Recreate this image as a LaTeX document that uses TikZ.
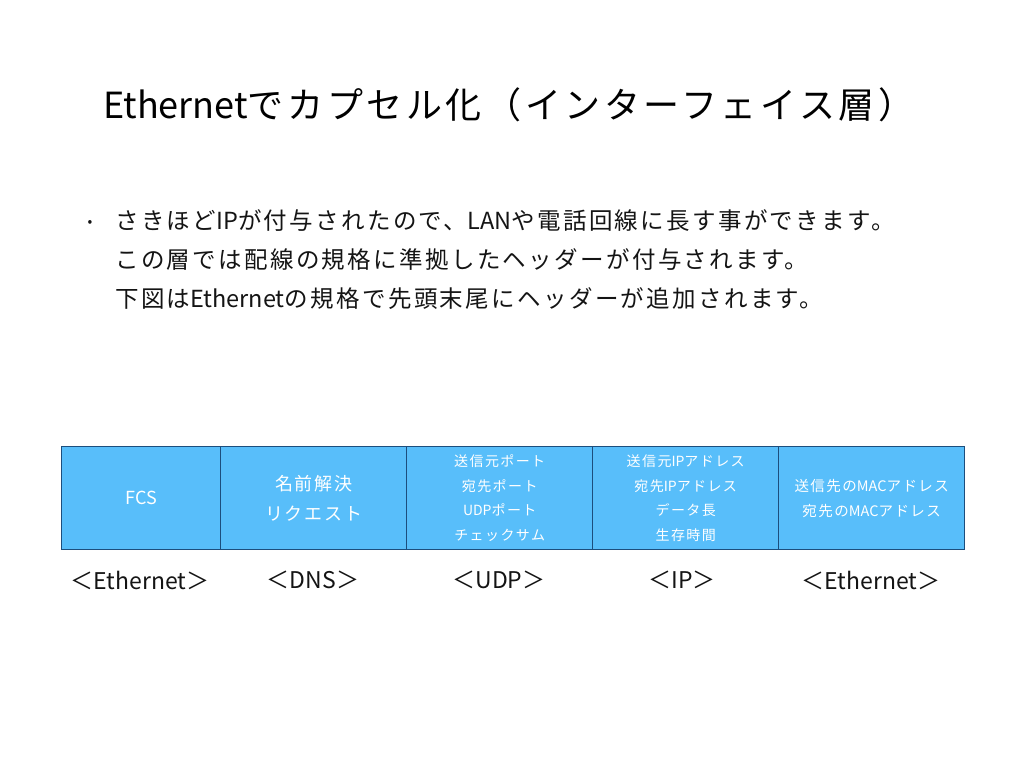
\documentclass[tikz,border=0pt]{standalone}
\usepackage{fontspec}
\setmainfont[LetterSpace=10]{Noto Sans CJK JP}
\newfontfamily\latf{Noto Sans CJK JP}
\newcommand\lat[1]{{\latf #1}}
\definecolor{boxfill}{RGB}{88,190,250}
\definecolor{boxline}{RGB}{28,78,125}
\definecolor{txt}{RGB}{20,20,20}
\tikzset{
  pkt/.style={draw=boxline, line width=1.4pt, fill=boxfill, anchor=north west, minimum height=103pt, inner sep=0pt, text=white, align=center},
  lbl/.style={text=txt, font=\fontsize{23}{26}\selectfont, anchor=center},
  bul/.style={text=txt, font=\fontsize{23.5}{26}\selectfont, anchor=base west, inner sep=0pt}
}
\begin{document}
\begin{tikzpicture}[x=1pt,y=-1pt]
\useasboundingbox (0,0) rectangle (1024,768);
\node[anchor=base west, inner sep=0pt, text=black, font=\fontsize{36}{40}\selectfont] (title) at (103,118) {\lat{Ethernet}でカプセル化（インターフェイス層）};
\node[text=txt, font=\fontsize{14}{20}\selectfont\latf, inner sep=0pt] (dot) at (90,223) {•};
\node[bul] (l1) at (115,229) {さきほど\lat{IP}が付与されたので、\lat{LAN}や電話回線に長す事ができます。};
\node[bul] (l2) at (115,268) {この層では配線の規格に準拠したヘッダーが付与されます。};
\node[bul] (l3) at (115,307) {下図は\lat{Ethernet}の規格で先頭末尾にヘッダーが追加されます。};
\node[pkt, minimum width=159pt, font=\fontsize{18}{24}\selectfont] (fcs) at (61,446) {\lat{FCS}};
\node[pkt, minimum width=186pt, font=\fontsize{18}{30}\selectfont] (dns) at (220,446) {名前解決\\リクエスト};
\node[pkt, minimum width=186pt, font=\fontsize{14}{24.5}\selectfont] (udp) at (406,446) {送信元ポート\\宛先ポート\\\lat{UDP}ポート\\チェックサム};
\node[pkt, minimum width=186pt, font=\fontsize{14}{24.5}\selectfont] (ip) at (592,446) {送信元\lat{IP}アドレス\\宛先\lat{IP}アドレス\\データ長\\生存時間};
\node[pkt, minimum width=186pt, font=\fontsize{14.5}{25}\selectfont] (eth) at (778,446) {送信先の\lat{MAC}アドレス\\宛先の\lat{MAC}アドレス};
\node[lbl] (lfcs) at (140,580) {＜\lat{Ethernet}＞};
\node[lbl] (ldns) at (313,580) {＜\lat{DNS}＞};
\node[lbl] (ludp) at (499,580) {＜\lat{UDP}＞};
\node[lbl] (lip) at (682,580) {＜\lat{IP}＞};
\node[lbl] (leth) at (871,580) {＜\lat{Ethernet}＞};
\end{tikzpicture}
\end{document}
